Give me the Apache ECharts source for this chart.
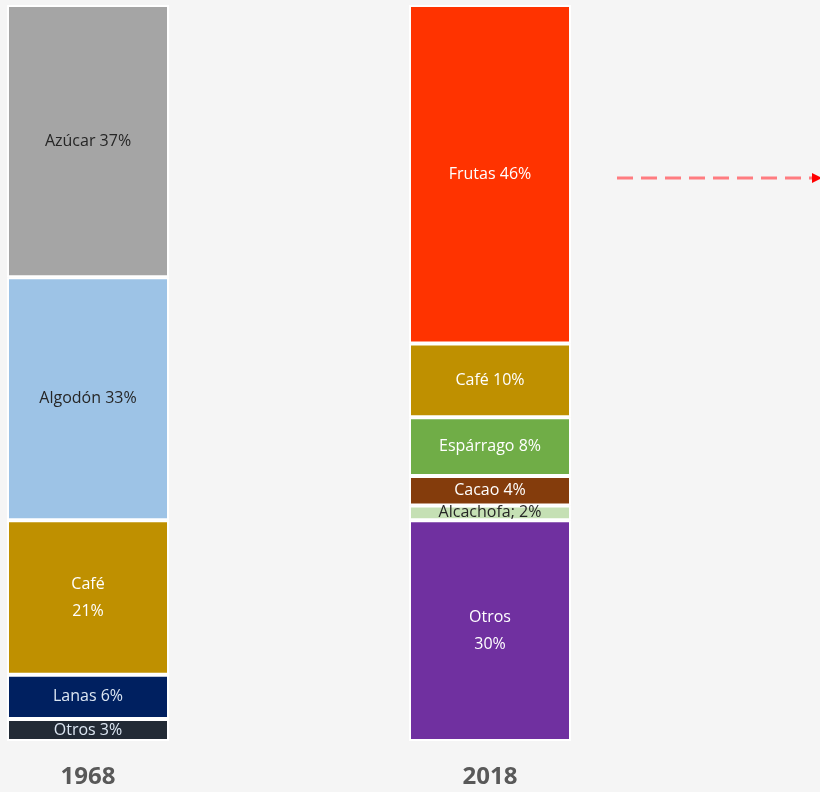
<!DOCTYPE html>
<html><head><meta charset="utf-8">
<script src="https://cdn.jsdelivr.net/npm/echarts@6/dist/echarts.min.js"></script>
<style>html,body{margin:0;padding:0;background:#f5f5f5}#c{width:820px;height:792px}</style>
</head><body><div id="c"></div>
<script>
const years = ['1968', '2018'];
const values1968 = [3, 6, 21, 33, 37];
const labels1968 = ['Otros 3%', 'Lanas 6%', 'Café\n21%', 'Algodón 33%', 'Azúcar 37%'];
const colors1968 = ['#222a35', '#002060', '#bf9000', '#9dc3e6', '#a5a5a5'];
const text1968 = ['#dce6f2', '#dce6f2', '#ffffff', '#262626', '#262626'];
const values2018 = [30, 2, 4, 8, 10, 46];
const labels2018 = ['Otros\n30%', 'Alcachofa; 2%', 'Cacao 4%', 'Espárrago 8%', 'Café 10%', 'Frutas 46%'];
const colors2018 = ['#7030a0', '#c5e0b4', '#843c0c', '#70ad47', '#bf9000', '#ff3300'];
const text2018 = ['#ffffff', '#262626', '#ffffff', '#ffffff', '#ffffff', '#ffffff'];

function mk(values, labels, colors, texts, idx) {
  return values.map((v, i) => ({
    type: 'bar', stack: 'total', barWidth: 162, clip: false,
    data: idx === 0 ? [v, '-'] : ['-', v],
    itemStyle: { color: colors[i], borderColor: '#ffffff', borderWidth: 2 },
    label: { show: true, position: 'inside', formatter: labels[i], color: texts[i],
             fontFamily: 'Open Sans', fontSize: 16, lineHeight: 27 }
  }));
}
const series = mk(values1968, labels1968, colors1968, text1968, 0)
  .concat(mk(values2018, labels2018, colors2018, text2018, 1));

const chart = echarts.init(document.getElementById('c'));
chart.setOption({
  backgroundColor: '#f5f5f5',
  animation: false,
  grid: { left: 88, right: 330, top: 5, bottom: 51 },
  xAxis: { type: 'category', data: years, boundaryGap: false,
    axisLine: { show: false }, axisTick: { show: false },
    axisLabel: { margin: 24, color: '#595959', fontSize: 24, fontWeight: 'bold', fontFamily: 'Open Sans' } },
  yAxis: { type: 'value', min: 0, max: 100, show: false, splitLine: { show: false } },
  series: series,
  graphic: [
    { type: 'line', shape: { x1: 617, y1: 178, x2: 812, y2: 178 },
      style: { stroke: '#ff7c80', lineWidth: 3, lineDash: [16, 8] } },
    { type: 'polygon', shape: { points: [[812, 173], [822, 178], [812, 183]] },
      style: { fill: '#ff0000' } }
  ]
});
</script></body></html>
